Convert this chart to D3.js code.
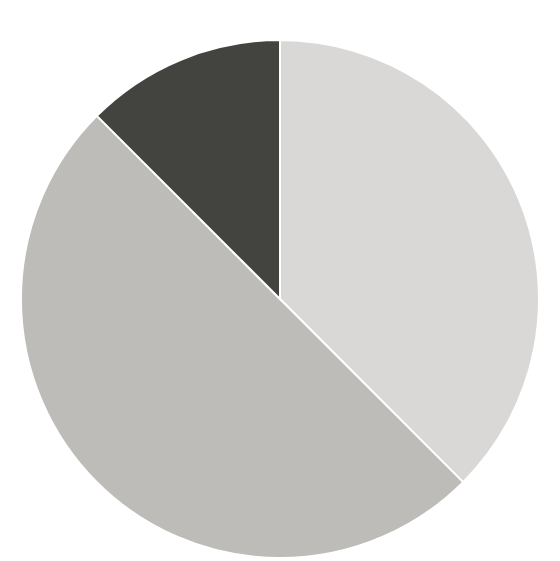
<!DOCTYPE html>
<html>
<head>
<meta charset="utf-8">
<script src="https://cdn.jsdelivr.net/npm/d3@7"></script>
<style>
  html, body { margin: 0; padding: 0; background: #fff; }
</style>
</head>
<body>
<div class="chart"></div>
<script>
// slice data, clockwise from 12 o'clock
const categories = ["A", "B", "C"];
const values = [37.5, 50, 12.5];
const colors = ["#d9d8d6", "#bdbcb8", "#434340"];

const width = 560, height = 561;
const cx = 280, cy = 299, radius = 259;

const svg = d3.select(".chart")
  .append("svg")
  .attr("width", width)
  .attr("height", height);

const pie = d3.pie()
  .sort(null)
  .value(function(d) { return d.value; });

const arc = d3.arc()
  .innerRadius(0)
  .outerRadius(radius);

const color = d3.scaleOrdinal()
  .domain(categories)
  .range(colors);

const rows = categories.map(function(c, i) { return { name: c, value: values[i] }; });

svg.append("g")
  .attr("transform", "translate(" + cx + "," + cy + ")")
  .selectAll("path")
  .data(pie(rows))
  .enter()
  .append("path")
  .attr("d", arc)
  .attr("fill", function(d) { return color(d.data.name); })
  .attr("stroke", "#fff")
  .attr("stroke-width", 2);
</script>
</body>
</html>
